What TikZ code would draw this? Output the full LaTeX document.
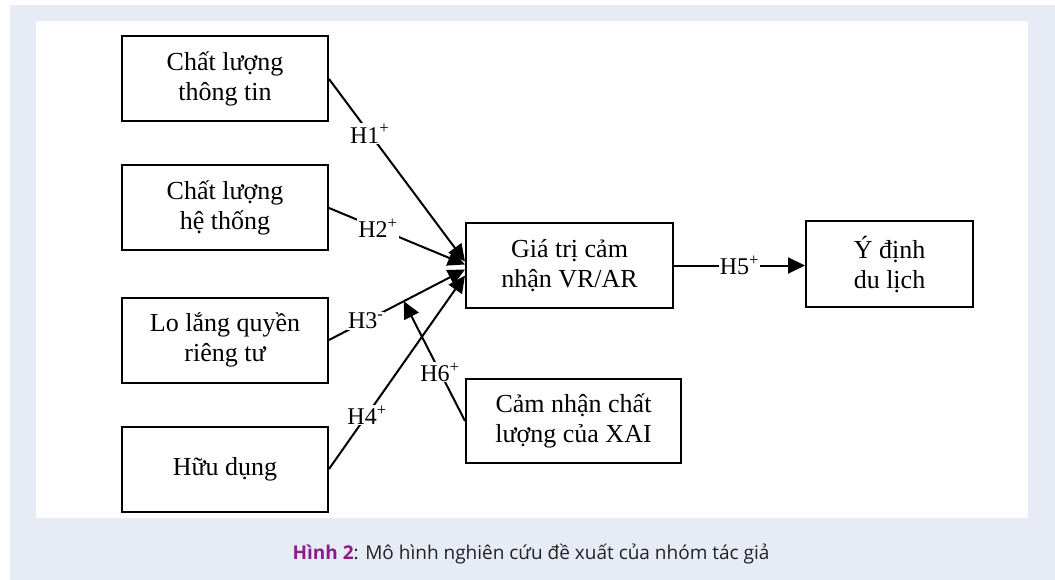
\documentclass[tikz,border=0pt]{standalone}
\usepackage{fontspec}
\setmainfont{Liberation Serif}
\newfontfamily\capfont{Open Sans}
\usetikzlibrary{arrows.meta, positioning, calc}
\definecolor{panelbg}{HTML}{E7EBF6}
\definecolor{hinhpurple}{HTML}{8C1C8C}
\definecolor{capgray}{HTML}{222222}

\begin{document}
\begin{tikzpicture}[x=1pt, y=-1pt,
    block/.style={draw, line width=2pt, fill=white, rectangle, minimum height=85pt, minimum width=206pt, align=center, inner sep=0pt, font=\fontsize{26}{30}\selectfont},
    link/.style={line width=2pt, -{Triangle[length=17pt,width=16pt]}},
    hyp/.style={fill=white, inner sep=1pt, font=\fontsize{24}{28}\selectfont}
]

% --- 1. PAGE AND PANEL ---
\fill[white] (0,0) rectangle (1055,580);
\fill[panelbg] (10,5) rectangle (1055,580);
\fill[white] (36,21) rectangle (1028,518);
\useasboundingbox (0,0) rectangle (1055,580);

% --- 2. CONSTRUCTS (Left Side) ---
\node[block] (info) at (225,79) {Chất lượng\\thông tin};
\node[block] (sys) at (225,208) {Chất lượng\\hệ thống};
\node[block] (privacy) at (225,340) {Lo lắng quyền\\riêng tư};
\node[block] (useful) at (225,469) {Hữu dụng};

% --- 3. MEDIATOR, OUTCOME AND MODERATOR ---
\node[block, minimum width=207pt] (value) at (569.5,265.5) {Giá trị cảm\\nhận VR/AR};
\node[block, minimum width=167pt] (intent) at (889.5,264) {Ý định\\du lịch};
\node[block, minimum width=215pt, minimum height=84pt] (xai) at (573.5,421) {Cảm nhận chất\\lượng của XAI};

% Arrow ends on the mediator
\coordinate (e1) at ($(value.west)+(0,-4)$);
\coordinate (e2) at ($(value.west)+(0,-1)$);
\coordinate (e3) at ($(value.west)+(0,4)$);
\coordinate (e4) at ($(value.west)+(0,10)$);

% --- 4. HYPOTHESES ---
\draw[link] (info.east) -- node[hyp, pos=0.3] {H1\textsuperscript{+}} (e1);
\draw[link] (sys.east) -- node[hyp, pos=0.36] {H2\textsuperscript{+}} (e2);
\draw[link] (privacy.east) -- node[hyp, pos=0.27] {H3\textsuperscript{-}} (e3);
\draw[link] (useful.east) -- node[hyp, pos=0.28] {H4\textsuperscript{+}} (e4);
\draw[link] (value.east) -- node[hyp] {H5\textsuperscript{+}} (value.east -| intent.west);

% Moderation onto H3
\coordinate (mod) at ($(privacy.east)!0.55!(e3)$);
\draw[link] (xai.west) -- node[hyp, pos=0.41] {H6\textsuperscript{+}} (mod);

% --- 5. CAPTION ---
\node[font=\capfont\fontsize{19}{22}\selectfont, text=capgray] (caption) at (531,554)
    {\textcolor{hinhpurple}{\bfseries Hình 2}: Mô hình nghiên cứu đề xuất của nhóm tác giả};

\end{tikzpicture}
\end{document}
